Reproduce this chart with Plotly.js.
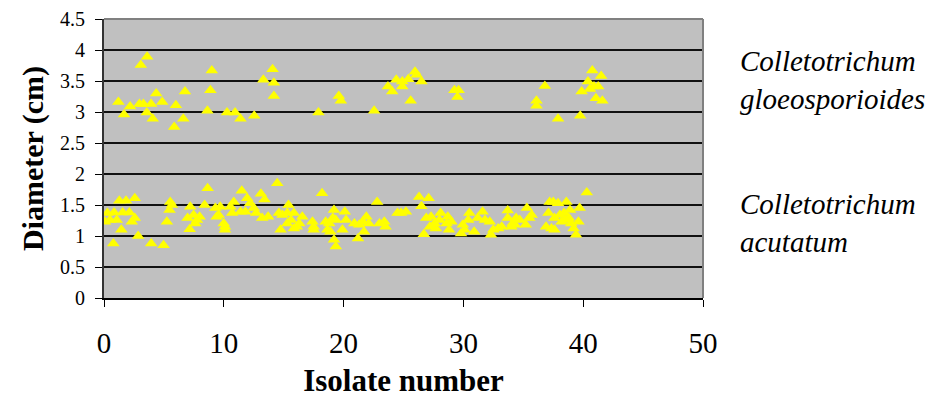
<!DOCTYPE html>
<html>
<head>
<meta charset="utf-8">
<script src="https://cdn.plot.ly/plotly-3.0.1.min.js"></script>
<style>html,body{margin:0;padding:0;background:#fff;}#chart{width:933px;height:398px;}</style>
</head>
<body>
<div id="chart"></div>
<script>
// Colletotrichum gloeosporioides (upper group)
var glX = [1.2,1.67,2.18,2.96,3.07,3.29,3.57,3.6,3.93,4.07,4.36,4.86,5.86,6.0,6.62,6.76,8.63,8.88,9.0,10.27,10.94,11.39,12.54,13.3,14.07,14.18,14.18,17.9,19.6,19.77,22.55,23.7,24.06,24.4,24.9,24.9,25.4,25.6,25.96,26.1,26.5,29.25,29.6,29.5,36.1,36.1,36.8,37.9,39.75,39.87,40.4,40.76,41.5,40.9,41.25,40.56,41.06,41.6];
var glY = [3.16,2.96,3.09,3.13,3.76,3.13,2.99,3.89,3.13,2.89,3.30,3.16,2.76,3.11,2.89,3.33,3.02,3.35,3.67,2.99,2.99,2.89,2.94,3.52,3.69,3.47,3.26,2.99,3.26,3.18,3.02,3.41,3.33,3.52,3.49,3.41,3.53,3.18,3.65,3.6,3.49,3.35,3.35,3.24,3.18,3.10,3.42,2.89,2.94,3.33,3.49,3.67,3.58,3.41,3.41,3.37,3.22,3.18];

// Colletotrichum acutatum (lower group)
var acX = [0.08,0.28,0.5,0.78,0.84,1.06,1.28,1.45,1.56,1.84,2.12,2.32,2.57,2.57,2.85,3.94,4.97,5.25,5.53,5.47,5.67,6.98,7.2,7.48,7.76,7.98,7.62,7.15,8.65,8.4,9.3,9.7,9.4,9.57,10.0,10.1,10.1,10.55,10.83,10.7,11.5,11.95,11.4,11.8,12.5,13.1,12.7,13.4,12.2,13.2,13.7,14.46,14.6,14.9,15.4,15.3,15.85,15.6,16.55,14.74,15.3,16.1,16.3,15.85,17.4,17.5,17.5,18.2,18.5,18.8,18.65,18.9,19.1,19.2,19.35,19.2,19.35,20.1,20.2,19.9,20.9,21.2,21.3,21.6,21.9,21.7,22.1,22.8,23.0,23.4,23.5,24.5,25.2,24.8,26.3,27.1,26.5,26.7,26.9,27.3,27.6,27.2,27.7,28.1,28.0,28.7,29.0,28.6,28.8,29.95,29.8,30.1,30.5,30.4,30.9,31.2,31.6,31.8,32.2,32.3,32.5,32.9,33.2,33.7,33.7,34.1,34.4,34.7,34.0,34.3,35.3,35.7,35.5,35.2,37.2,37.5,37.1,36.9,37.35,37.6,37.9,38.05,37.6,38.6,38.9,38.4,38.2,38.5,38.8,39.0,39.2,39.4,39.6,39.7,40.3];
var acY = [1.23,1.37,1.26,0.88,1.38,1.26,1.57,1.10,1.38,1.57,1.38,1.23,1.61,1.29,1.0,0.88,0.85,1.23,1.55,1.42,1.5,1.29,1.47,1.34,1.26,1.31,1.2,1.11,1.77,1.5,1.45,1.47,1.31,1.34,1.2,1.1,1.15,1.47,1.55,1.37,1.73,1.61,1.39,1.39,1.45,1.68,1.37,1.59,1.53,1.29,1.31,1.85,1.37,1.34,1.5,1.37,1.37,1.26,1.31,1.10,1.2,1.15,1.2,1.12,1.23,1.10,1.15,1.69,1.23,1.2,1.1,1.07,1.29,1.42,1.26,0.94,0.83,1.39,1.26,1.10,1.2,0.96,1.18,1.23,1.31,1.07,1.2,1.55,1.2,1.23,1.15,1.37,1.39,1.37,1.63,1.61,1.48,1.03,1.29,1.31,1.2,1.15,1.12,1.37,1.26,1.31,1.23,1.2,1.10,1.18,1.04,1.10,1.37,1.26,1.07,1.29,1.39,1.26,1.23,1.02,1.10,1.12,1.15,1.41,1.29,1.2,1.29,1.26,1.15,1.18,1.45,1.34,1.29,1.18,1.55,1.55,1.37,1.15,1.12,1.29,1.53,1.34,1.10,1.55,1.42,1.37,1.23,1.26,1.29,1.2,1.12,1.02,1.23,1.45,1.70];

var xTicks = [0,10,20,30,40,50];
var yTicks = [0,0.5,1,1.5,2,2.5,3,3.5,4,4.5];
var yTickText = ['0','0.5','1','1.5','2','2.5','3','3.5','4','4.5'];
var labels = ['Colletotrichum<br>gloeosporioides', 'Colletotrichum<br>acutatum'];
var labelY = [3.52, 1.21];

var serif = 'Liberation Serif';
var marker = {symbol: 'triangle-up', size: 11, color: '#FFFF00', line: {width: 0}};

var traces = [
  {x: glX, y: glY, type: 'scatter', mode: 'markers', marker: marker, name: 'C. gloeosporioides', hoverinfo: 'x+y'},
  {x: acX, y: acY, type: 'scatter', mode: 'markers', marker: marker, name: 'C. acutatum', hoverinfo: 'x+y'}
];

var layout = {
  width: 933, height: 398,
  margin: {l: 104, r: 230, t: 19, b: 100, pad: 0},
  paper_bgcolor: '#ffffff',
  plot_bgcolor: '#C0C0C0',
  showlegend: false,
  font: {family: serif, color: '#000'},
  xaxis: {
    range: [0, 50], tickvals: xTicks, ticktext: xTicks.map(String),
    showgrid: false, zeroline: false,
    showline: true, linecolor: '#000', linewidth: 1.5,
    ticks: 'outside', ticklen: 7, tickcolor: '#000', tickwidth: 1,
    ticklabelstandoff: 12,
    tickfont: {family: serif, size: 29, color: '#000'},
    title: {text: '<b>Isolate number</b>', font: {family: serif, size: 31, color: '#000'}, standoff: 14}
  },
  yaxis: {
    range: [0, 4.5], tickvals: yTicks, ticktext: yTickText,
    showgrid: true, gridcolor: '#111', gridwidth: 1.2, zeroline: false,
    showline: true, linecolor: '#333', linewidth: 2,
    ticks: 'outside', ticklen: 7, tickcolor: '#000', tickwidth: 1,
    ticklabelstandoff: 6,
    tickfont: {family: serif, size: 20, color: '#000'},
    title: {text: '<b>Diameter (cm)</b>', font: {family: serif, size: 30, color: '#000'}, standoff: 8}
  },
  shapes: [
    {type: 'line', xref: 'paper', yref: 'paper', x0: 0, x1: 1, y0: 1, y1: 1, line: {color: '#808080', width: 2}},
    {type: 'line', xref: 'paper', yref: 'paper', x0: 1, x1: 1, y0: 0, y1: 1, line: {color: '#808080', width: 2}}
  ],
  annotations: labels.map(function (t, i) {
    return {text: t, xref: 'paper', yref: 'y', x: 1.059, y: labelY[i], xanchor: 'left', yanchor: 'middle',
      showarrow: false, align: 'left', font: {family: serif, size: 29, color: '#000', style: 'italic'}};
  })
};

Plotly.newPlot('chart', traces, layout, {displayModeBar: false, staticPlot: true});
</script>
</body>
</html>
